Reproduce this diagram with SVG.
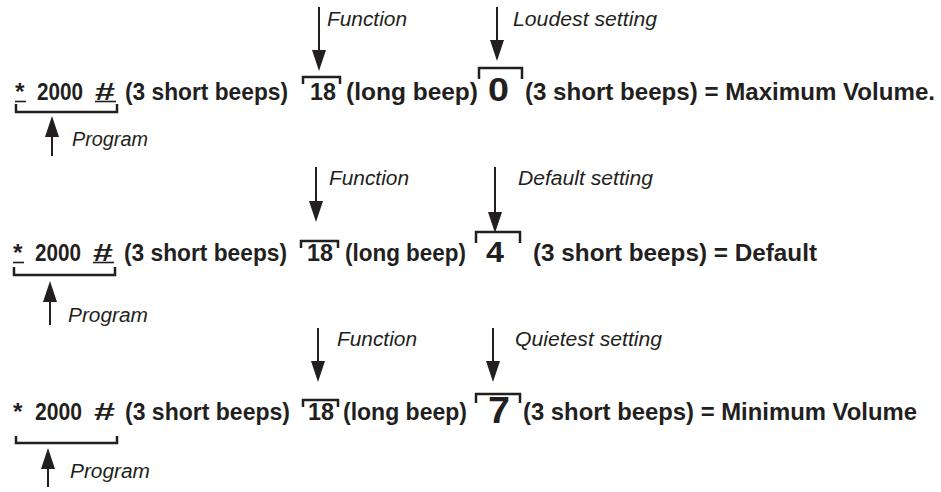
<svg xmlns="http://www.w3.org/2000/svg" width="941" height="492" viewBox="0 0 941 492">
<defs>
<marker id="ah" markerUnits="userSpaceOnUse" markerWidth="22" markerHeight="14" refX="6" refY="7" orient="auto">
<path d="M0,0 L21,7 L0,14 Z" fill="#231f20"/>
</marker>
<style>
.t{font-family:"Liberation Sans",Arial,sans-serif;font-weight:bold;font-size:24.5px;fill:#231f20}
.big{font-family:"Liberation Sans",Arial,sans-serif;font-weight:bold;fill:#231f20}
.lab{font-family:"Liberation Sans",Arial,sans-serif;font-style:italic;font-size:20px;fill:#231f20}
.br{fill:none;stroke:#231f20;stroke-width:2.5}
.ul{stroke:#231f20;stroke-width:1.6}
.ar{stroke:#231f20;stroke-width:2;marker-end:url(#ah)}
</style>
</defs>
<rect width="941" height="492" fill="#ffffff"/>

<!-- Row 1 -->
<g id="row1-program">
<text class="t" x="15" y="100" font-size="20">*</text>
<text class="t" x="37" y="100" textLength="46" lengthAdjust="spacingAndGlyphs">2000</text>
<text class="t" x="95" y="100" textLength="20" lengthAdjust="spacingAndGlyphs">#</text>
<line class="ul" x1="15" y1="101.5" x2="26" y2="101.5"/>
<line class="ul" x1="95" y1="101.5" x2="116" y2="101.5"/>
<path class="br" d="M16,104 V112 H117 V104"/>
</g>
<g id="row1-beeps"><text class="t" x="125" y="100" textLength="163" lengthAdjust="spacingAndGlyphs">(3 short beeps)</text></g>
<g id="row1-function">
<path class="br" d="M303,84 V77 H340 V84"/>
<text class="t" x="310" y="100" textLength="26" lengthAdjust="spacingAndGlyphs">18</text>
</g>
<g id="row1-long"><text class="t" x="346" y="100" textLength="132" lengthAdjust="spacingAndGlyphs">(long beep)</text></g>
<g id="row1-setting">
<path class="br" d="M479,79 V68 H522 V79"/>
<text class="big" x="488" y="101" font-size="34" textLength="21" lengthAdjust="spacingAndGlyphs">0</text>
</g>
<g id="row1-result"><text class="t" x="525" y="100" textLength="410" lengthAdjust="spacingAndGlyphs">(3 short beeps) = Maximum Volume.</text></g>
<g id="row1-labels">
<text class="lab" x="327" y="26" textLength="80" lengthAdjust="spacingAndGlyphs">Function</text>
<text class="lab" x="513" y="26" textLength="144" lengthAdjust="spacingAndGlyphs">Loudest setting</text>
<text class="lab" x="72" y="146" textLength="76" lengthAdjust="spacingAndGlyphs">Program</text>
</g>

<!-- Row 2 -->
<g id="row2-program">
<text class="t" x="13" y="261" font-size="20">*</text>
<text class="t" x="35" y="261" textLength="46" lengthAdjust="spacingAndGlyphs">2000</text>
<text class="t" x="93" y="261" textLength="20" lengthAdjust="spacingAndGlyphs">#</text>
<line class="ul" x1="13" y1="262.5" x2="24" y2="262.5"/>
<line class="ul" x1="93" y1="262.5" x2="114" y2="262.5"/>
<path class="br" d="M14,267 V275 H115 V267"/>
</g>
<g id="row2-beeps"><text class="t" x="124" y="261" textLength="163" lengthAdjust="spacingAndGlyphs">(3 short beeps)</text></g>
<g id="row2-function">
<path class="br" d="M301,248 V241 H338 V248"/>
<text class="t" x="307" y="261" textLength="26" lengthAdjust="spacingAndGlyphs">18</text>
</g>
<g id="row2-long"><text class="t" x="345" y="261" textLength="121" lengthAdjust="spacingAndGlyphs">(long beep)</text></g>
<g id="row2-setting">
<path class="br" d="M476,243 V232 H520 V243"/>
<text class="big" x="486" y="262" font-size="29" textLength="18" lengthAdjust="spacingAndGlyphs">4</text>
</g>
<g id="row2-result"><text class="t" x="533" y="261" textLength="284" lengthAdjust="spacingAndGlyphs">(3 short beeps) = Default</text></g>
<g id="row2-labels">
<text class="lab" x="329" y="185" textLength="80" lengthAdjust="spacingAndGlyphs">Function</text>
<text class="lab" x="518" y="185" textLength="135" lengthAdjust="spacingAndGlyphs">Default setting</text>
<text class="lab" x="68" y="322" textLength="80" lengthAdjust="spacingAndGlyphs">Program</text>
</g>

<!-- Row 3 -->
<g id="row3-program">
<text class="t" x="13" y="420" font-size="20">*</text>
<text class="t" x="35" y="420" textLength="47" lengthAdjust="spacingAndGlyphs">2000</text>
<text class="t" x="94" y="420" textLength="21" lengthAdjust="spacingAndGlyphs">#</text>
<path class="br" d="M16,436 V443 H117 V436"/>
</g>
<g id="row3-beeps"><text class="t" x="125" y="420" textLength="165" lengthAdjust="spacingAndGlyphs">(3 short beeps)</text></g>
<g id="row3-function">
<path class="br" d="M303,407 V400 H338 V407"/>
<text class="t" x="308" y="420" textLength="26" lengthAdjust="spacingAndGlyphs">18</text>
</g>
<g id="row3-long"><text class="t" x="343" y="420" textLength="124" lengthAdjust="spacingAndGlyphs">(long beep)</text></g>
<g id="row3-setting">
<path class="br" d="M476,403 V394 H520 V403"/>
<text class="big" x="488" y="423" font-size="36" textLength="22" lengthAdjust="spacingAndGlyphs">7</text>
</g>
<g id="row3-result"><text class="t" x="523" y="420" textLength="394" lengthAdjust="spacingAndGlyphs">(3 short beeps) = Minimum Volume</text></g>
<g id="row3-labels">
<text class="lab" x="337" y="346" textLength="80" lengthAdjust="spacingAndGlyphs">Function</text>
<text class="lab" x="515" y="346" textLength="147" lengthAdjust="spacingAndGlyphs">Quietest setting</text>
<text class="lab" x="70" y="478" textLength="80" lengthAdjust="spacingAndGlyphs">Program</text>
</g>

<g id="connectors">
<line class="ar" x1="319" y1="7" x2="319" y2="56"/>
<line class="ar" x1="497" y1="7" x2="497" y2="46"/>
<line class="ar" x1="52" y1="156" x2="52" y2="131"/>
<line class="ar" x1="316" y1="167" x2="316" y2="207"/>
<line class="ar" x1="495" y1="167" x2="495" y2="218"/>
<line class="ar" x1="50" y1="325" x2="50" y2="296"/>
<line class="ar" x1="318" y1="328" x2="318" y2="367"/>
<line class="ar" x1="493" y1="328" x2="493" y2="367"/>
<line class="ar" x1="48" y1="487" x2="48" y2="463"/>
</g>
</svg>
